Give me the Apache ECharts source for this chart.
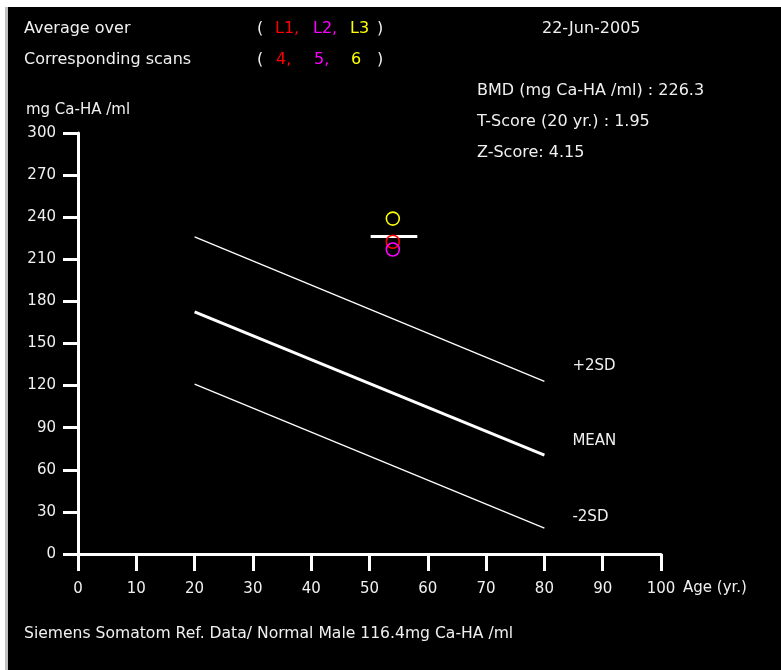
<!DOCTYPE html>
<html>
<head>
<meta charset="utf-8">
<script src="https://cdn.jsdelivr.net/npm/echarts@6/dist/echarts.min.js"></script>
<style>
  html, body { margin: 0; padding: 0; background: #000; }
  #wrap { position: relative; width: 781px; height: 670px; overflow: hidden; }
  #chart { position: absolute; left: 0; top: 0; width: 781px; height: 670px; }
  #topEdge { position: absolute; left: 0; top: 0; width: 781px; height: 7px; background: #fff; }
  #leftEdge { position: absolute; left: 0; top: 0; width: 5px; height: 670px; background: #fff; }
  #leftBar { position: absolute; left: 5px; top: 7px; width: 3px; height: 663px; background: #c0c0c0; }
</style>
</head>
<body>
<div id="wrap">
  <div id="chart"></div>
  <div id="topEdge"></div>
  <div id="leftEdge"></div>
  <div id="leftBar"></div>
</div>
<script>
// Reference curves (age in years -> BMD in mg Ca-HA/ml)
const refAges = [20, 80];
const plus2SD = [226, 123];
const meanBMD = [172.5, 70.5];
const minus2SD = [121, 18.5];
const refNames = ['+2SD', 'MEAN', '-2SD'];

// Patient scan results
const scanAge = 54;
const vertebrae = ['L1', 'L2', 'L3'];
const scanNumbers = ['4', '5', '6'];
const scanBMD = [222.5, 217, 239];
const scanColors = ['#ff0000', '#ff00ff', '#ffff00'];
const avgBMD = 226.3;
const avgBarAges = [50.2, 58.2];

// Axis settings
const ageRange = [0, 100, 10];
const bmdRange = [0, 300, 30];

const FONT = 'DejaVu Sans';
const TXT = '#f0f0f0';

const chart = echarts.init(document.getElementById('chart'), null, { renderer: 'canvas' });

function refSeries(name, values, width, labelLift) {
  return {
    type: 'line',
    name: name,
    data: refAges.map((a, i) => [a, values[i]]),
    showSymbol: false,
    symbol: 'none',
    lineStyle: { color: '#ffffff', width: width },
    endLabel: {
      show: true, formatter: name, distance: 28, offset: [0, -labelLift],
      color: TXT, fontFamily: FONT, fontSize: 15
    },
    silent: true,
    z: 2
  };
}

const series = [
  refSeries(refNames[0], plus2SD, 1.3, 15),
  refSeries(refNames[1], meanBMD, 3, 14),
  refSeries(refNames[2], minus2SD, 1.3, 11),
  {
    type: 'line',
    name: 'avg',
    data: avgBarAges.map(a => [a, avgBMD]),
    symbol: 'none',
    lineStyle: { color: '#ffffff', width: 3 },
    z: 3
  }
];
vertebrae.forEach((v, i) => {
  series.push({
    type: 'scatter',
    name: v,
    data: [[scanAge, scanBMD[i]]],
    symbol: 'circle',
    symbolSize: 13,
    itemStyle: { color: 'rgba(0,0,0,0)', borderColor: scanColors[i], borderWidth: 1.6, opacity: 1 },
    z: 4
  });
});

function txt(x, y, s, color, size) {
  return {
    type: 'text', x: x, y: y,
    style: { text: s, fill: color || TXT, font: (size || 16) + 'px "' + FONT + '"', textAlign: 'left', textVerticalAlign: 'middle' }
  };
}

const headerCols = [275, 313, 350];
const graphics = [
  txt(24, 29, 'Average over'),
  txt(24, 60, 'Corresponding scans'),
  txt(257, 29, '('), txt(377, 29, ')'),
  txt(257, 60, '('), txt(377, 60, ')'),
  txt(542, 29, '22-Jun-2005'),
  txt(477, 91, 'BMD (mg Ca-HA /ml) : ' + avgBMD.toFixed(1)),
  txt(477, 122, 'T-Score (20 yr.) : 1.95'),
  txt(477, 153, 'Z-Score: 4.15'),
  txt(24, 634, 'Siemens Somatom Ref. Data/ Normal Male 116.4mg Ca-HA /ml', TXT, 15.6)
];
vertebrae.forEach((v, i) => {
  graphics.push(txt(headerCols[i], 29, v + (i < 2 ? ',' : ''), scanColors[i]));
  graphics.push(txt(headerCols[i] + 1, 60, scanNumbers[i] + (i < 2 ? ',' : ''), scanColors[i]));
});

chart.setOption({
  backgroundColor: '#000',
  animation: false,
  grid: { left: 78, right: 120, top: 133, bottom: 116, containLabel: false },
  xAxis: {
    type: 'value',
    min: ageRange[0], max: ageRange[1], interval: ageRange[2],
    name: 'Age (yr.)',
    nameLocation: 'end',
    nameGap: 22,
    nameTextStyle: { color: TXT, fontFamily: FONT, fontSize: 15, verticalAlign: 'top', padding: [27, 0, 0, 0] },
    axisLine: { lineStyle: { color: '#fff', width: 3 } },
    axisTick: { show: true, length: 17, lineStyle: { color: '#fff', width: 3 } },
    axisLabel: { color: TXT, fontFamily: FONT, fontSize: 15, margin: 28 },
    splitLine: { show: false }
  },
  yAxis: {
    type: 'value',
    min: bmdRange[0], max: bmdRange[1], interval: bmdRange[2],
    name: 'mg Ca-HA /ml',
    nameLocation: 'end',
    nameGap: 15,
    nameTextStyle: { color: TXT, fontFamily: FONT, fontSize: 15 },
    axisLine: { lineStyle: { color: '#fff', width: 3 } },
    axisTick: { show: true, length: 15, lineStyle: { color: '#fff', width: 3 } },
    axisLabel: { color: TXT, fontFamily: FONT, fontSize: 15, margin: 22 },
    splitLine: { show: false }
  },
  series: series,
  graphic: graphics
});
</script>
</body>
</html>
